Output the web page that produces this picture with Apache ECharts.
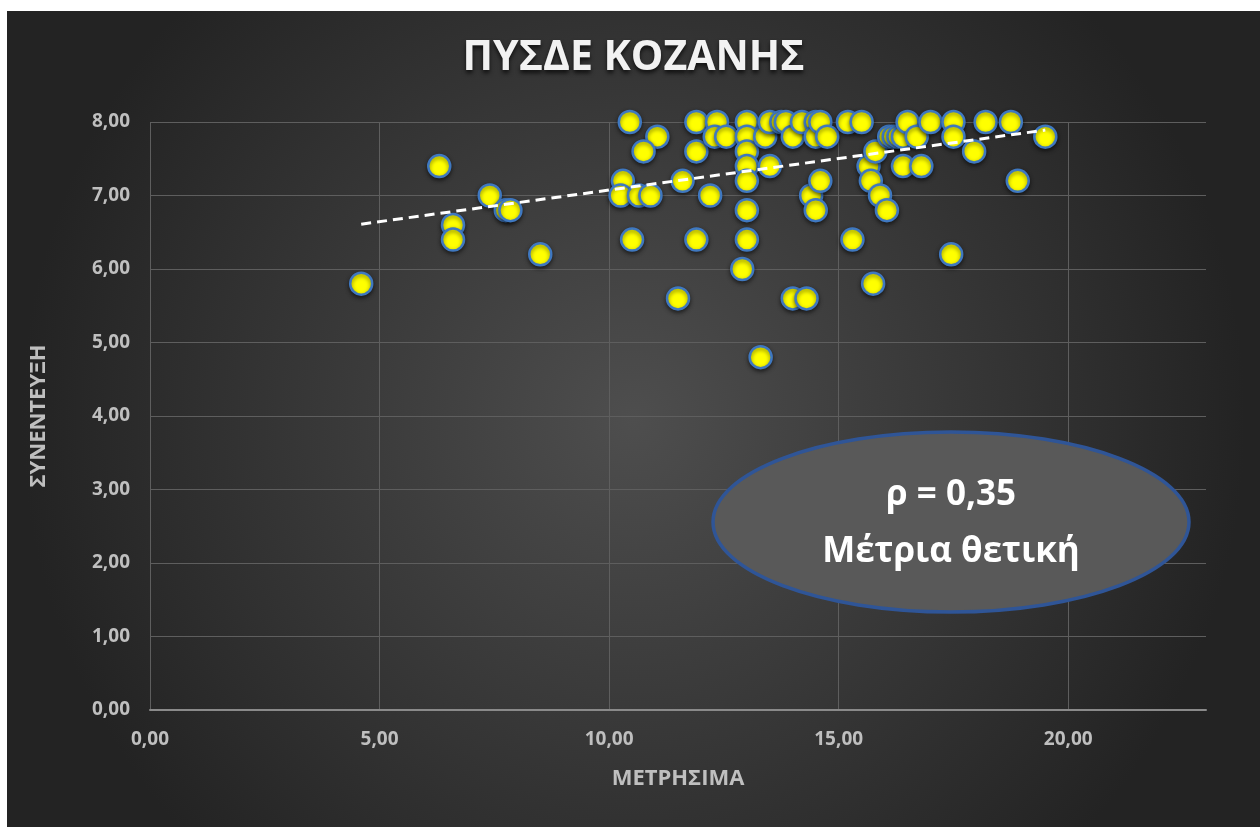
<!DOCTYPE html>
<html>
<head>
<meta charset="utf-8">
<script src="https://cdn.jsdelivr.net/npm/echarts@6/dist/echarts.min.js"></script>
<style>
  html, body { margin: 0; padding: 0; background: #ffffff; }
  #chart { position: absolute; left: 7px; top: 11px; width: 1253px; height: 816px; }
</style>
</head>
<body>
<div id="chart"></div>
<script>
// μετρήσιμα (x) και συνέντευξη (y), ανά υποψήφιο
const metrisima = [
  4.6, 6.3, 6.6, 6.6, 7.4, 7.75, 7.85, 8.5,
  10.45, 11.05, 10.75, 10.3, 10.25, 10.65, 10.9, 10.5, 11.5, 11.6,
  11.9, 11.9, 11.9, 12.2, 12.35, 12.3, 12.55,
  13.0, 13.0, 13.0, 13.0, 13.0, 13.0, 13.0, 12.9, 13.3,
  13.4, 13.5, 13.5, 13.75, 13.85, 14.0, 14.0, 14.2, 14.3, 14.4,
  14.5, 14.5, 14.5, 14.6, 14.6, 14.75,
  15.2, 15.3, 15.5, 15.65, 15.7, 15.75, 15.8, 15.9, 16.05,
  16.1, 16.2, 16.3, 16.4, 16.4, 16.5, 16.7, 16.8, 17.0,
  17.45, 17.5, 17.5, 17.95, 18.2, 18.75, 18.9, 19.5
];
const synenteyxi = [
  5.8, 7.4, 6.6, 6.4, 7.0, 6.8, 6.8, 6.2,
  8.0, 7.8, 7.6, 7.2, 7.0, 7.0, 7.0, 6.4, 5.6, 7.2,
  8.0, 7.6, 6.4, 7.0, 8.0, 7.8, 7.8,
  8.0, 7.8, 7.6, 7.4, 7.2, 6.8, 6.4, 6.0, 4.8,
  7.8, 8.0, 7.4, 8.0, 8.0, 7.8, 5.6, 8.0, 5.6, 7.0,
  8.0, 7.8, 6.8, 8.0, 7.2, 7.8,
  8.0, 6.4, 8.0, 7.4, 7.2, 5.8, 7.6, 7.0, 6.8,
  7.8, 7.8, 7.8, 7.8, 7.4, 8.0, 7.8, 7.4, 8.0,
  6.2, 8.0, 7.8, 7.6, 8.0, 8.0, 7.2, 7.8
];
// γραμμή τάσης όπως φαίνεται στο διάγραμμα (αρχή, τέλος)
const trendX = [4.6, 19.5];
const trendY = [6.61, 7.89];
const xTicks = [0, 5, 10, 15, 20];
const yTicks = [0, 1, 2, 3, 4, 5, 6, 7, 8];

const points = metrisima.map((x, i) => [x, synenteyxi[i]]);
const trend = trendX.map((x, i) => [x, trendY[i]]);

const fmt = v => v.toFixed(2).replace('.', ',');
const labelFont = { color: '#bfbfbf', fontFamily: 'Open Sans', fontWeight: 'bold', fontSize: 19 };

let myChart = echarts.init(document.getElementById('chart'));
let option = {
  backgroundColor: {
    type: 'radial', x: 0.5, y: 0.5, r: 0.75,
    colorStops: [
      { offset: 0, color: '#4e4e4e' },
      { offset: 1, color: '#232323' }
    ]
  },
  title: {
    text: 'ΠΥΣΔΕ ΚΟΖΑΝΗΣ',
    left: 'center',
    top: 22,
    textStyle: {
      color: '#f2f2f2', fontFamily: 'Open Sans', fontWeight: 'bold', fontSize: 41,
      textShadowColor: 'rgba(0,0,0,0.7)', textShadowBlur: 4, textShadowOffsetY: 3
    }
  },
  grid: { left: 143, right: 54, top: 111, bottom: 117 },
  xAxis: {
    type: 'value', min: 0, max: 23, interval: 5,
    name: 'ΜΕΤΡΗΣΙΜΑ', nameLocation: 'middle', nameGap: 58,
    nameTextStyle: { color: '#bfbfbf', fontFamily: 'Open Sans', fontWeight: 'bold', fontSize: 22 },
    axisLine: { show: true, lineStyle: { color: '#8a8a8a', width: 2 } },
    axisTick: { show: false },
    axisLabel: Object.assign({ margin: 20, formatter: v => xTicks.includes(v) ? fmt(v) : '' }, labelFont),
    splitLine: { show: true, lineStyle: { color: ['#5e5e5e', '#5e5e5e', '#5e5e5e', '#5e5e5e', '#5e5e5e', 'rgba(0,0,0,0)'], width: 1 } }
  },
  yAxis: {
    type: 'value', min: 0, max: 8, interval: 1,
    name: 'ΣΥΝΕΝΤΕΥΞΗ', nameLocation: 'middle', nameGap: 100, nameRotate: 90,
    nameTextStyle: { color: '#bfbfbf', fontFamily: 'Open Sans', fontWeight: 'bold', fontSize: 22 },
    axisLine: { show: false },
    axisTick: { show: false },
    axisLabel: Object.assign({ margin: 20, formatter: v => yTicks.includes(v) ? fmt(v) : '' }, labelFont),
    splitLine: { show: true, lineStyle: { color: '#5e5e5e', width: 1 } }
  },
  series: [
    {
      name: 'Σημεία',
      type: 'scatter',
      data: points,
      symbolSize: 22,
      itemStyle: {
        color: '#ffff00',
        opacity: 1,
        borderColor: '#3f78c0',
        borderWidth: 2.5,
        shadowColor: 'rgba(0,0,0,0.5)',
        shadowBlur: 4,
        shadowOffsetY: 2
      },
      z: 2
    },
    {
      name: 'Τάση',
      type: 'line',
      data: trend,
      symbol: 'none',
      lineStyle: { color: '#ffffff', width: 3, type: [10, 6] },
      z: 3
    }
  ],
  graphic: [
    {
      type: 'ellipse',
      shape: { cx: 944, cy: 511, rx: 238, ry: 90 },
      style: { fill: '#595959', stroke: '#2f5597', lineWidth: 3.5 },
      z: 10
    },
    {
      type: 'text',
      x: 944, y: 484,
      style: {
        text: 'ρ = 0,35', fill: '#ffffff', align: 'center', verticalAlign: 'middle',
        font: 'bold 35px "Open Sans"'
      },
      z: 11
    },
    {
      type: 'text',
      x: 944, y: 541,
      style: {
        text: 'Μέτρια θετική', fill: '#ffffff', align: 'center', verticalAlign: 'middle',
        font: 'bold 35px "Open Sans"'
      },
      z: 11
    }
  ]
};
myChart.setOption(option);
</script>
</body>
</html>
